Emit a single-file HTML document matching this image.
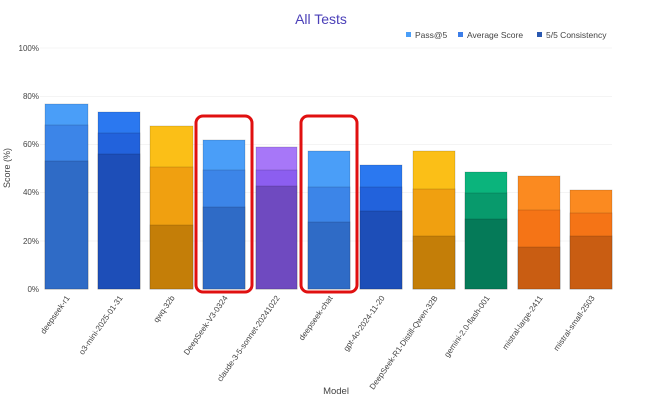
<!DOCTYPE html>
<html><head><meta charset="utf-8"><style>
html,body{margin:0;padding:0;background:#fff;}
svg{display:block;font-family:"Liberation Sans",sans-serif;}
</style></head><body>
<svg width="671" height="406" viewBox="0 0 671 406">
<text x="321" y="24" font-size="14" fill="#4a3fb8" text-anchor="middle">All Tests</text>
<g font-size="8.5" fill="#444">
<rect x="406" y="32" width="5" height="5" fill="#4a9ef8"/><text x="415" y="38">Pass@5</text>
<rect x="458" y="32" width="5" height="5" fill="#3c7de8"/><text x="467" y="38">Average Score</text>
<rect x="537" y="32" width="5" height="5" fill="#2a58b0"/><text x="546" y="38">5/5 Consistency</text>
</g>
<g stroke="#f4f4f4" stroke-width="1">
<line x1="40" y1="48" x2="612" y2="48"/><line x1="40" y1="96.5" x2="612" y2="96.5"/>
<line x1="40" y1="144.5" x2="612" y2="144.5"/><line x1="40" y1="192.5" x2="612" y2="192.5"/><line x1="40" y1="241" x2="612" y2="241"/>
</g>
<g font-size="8" fill="#444" text-anchor="end">
<text x="39" y="51">100%</text><text x="39" y="99">80%</text><text x="39" y="147">60%</text>
<text x="39" y="195">40%</text><text x="39" y="244">20%</text><text x="39" y="292">0%</text>
</g>
<text transform="translate(10,168) rotate(-90)" font-size="9" fill="#444" text-anchor="middle">Score (%)</text>
<text x="336" y="394" font-size="9.5" fill="#444" text-anchor="middle">Model</text>
<g stroke="rgba(0,0,0,0.18)" stroke-width="0.8">
<rect x="45" y="104" width="43" height="185" fill="#4a9ef8"/><rect x="45" y="125" width="43" height="164" fill="#3c85e8"/><rect x="45" y="161" width="43" height="128" fill="#2f6bc6"/>
<rect x="98" y="112" width="42" height="177" fill="#2b78f0"/><rect x="98" y="133" width="42" height="156" fill="#2262dc"/><rect x="98" y="154" width="42" height="135" fill="#1d4eb8"/>
<rect x="150" y="126" width="43" height="163" fill="#fbbf17"/><rect x="150" y="167" width="43" height="122" fill="#f0a010"/><rect x="150" y="225" width="43" height="64" fill="#c47e08"/>
<rect x="203" y="140" width="42" height="149" fill="#4a9ef8"/><rect x="203" y="170" width="42" height="119" fill="#3c85e8"/><rect x="203" y="207" width="42" height="82" fill="#2f6bc6"/>
<rect x="256" y="147" width="41" height="142" fill="#a777f8"/><rect x="256" y="170" width="41" height="119" fill="#8c5ef0"/><rect x="256" y="186" width="41" height="103" fill="#6f4ac0"/>
<rect x="308" y="151" width="42" height="138" fill="#4a9ef8"/><rect x="308" y="187" width="42" height="102" fill="#3c85e8"/><rect x="308" y="222" width="42" height="67" fill="#2f6bc6"/>
<rect x="360" y="165" width="42" height="124" fill="#2b78f0"/><rect x="360" y="187" width="42" height="102" fill="#2262dc"/><rect x="360" y="211" width="42" height="78" fill="#1d4eb8"/>
<rect x="413" y="151" width="42" height="138" fill="#fbbf17"/><rect x="413" y="189" width="42" height="100" fill="#f0a010"/><rect x="413" y="236" width="42" height="53" fill="#c47e08"/>
<rect x="465" y="172" width="42" height="117" fill="#0bb47c"/><rect x="465" y="193" width="42" height="96" fill="#089a6c"/><rect x="465" y="219" width="42" height="70" fill="#057a58"/>
<rect x="518" y="176" width="42" height="113" fill="#fb8a20"/><rect x="518" y="210" width="42" height="79" fill="#f57416"/><rect x="518" y="247" width="42" height="42" fill="#c95d12"/>
<rect x="570" y="190" width="42" height="99" fill="#fb8a20"/><rect x="570" y="213" width="42" height="76" fill="#f57416"/><rect x="570" y="236" width="42" height="53" fill="#c95d12"/>
</g>
<rect x="196" y="116" width="56" height="176" rx="7" fill="none" stroke="#e01010" stroke-width="3"/>
<rect x="301" y="116" width="56" height="176" rx="7" fill="none" stroke="#e01010" stroke-width="3"/>
<g font-size="8" fill="#444" text-anchor="end">
<text transform="translate(70,298) rotate(-55)">deepseek-r1</text>
<text transform="translate(123,298) rotate(-55)">o3-mini-2025-01-31</text>
<text transform="translate(175,298) rotate(-55)">qwq-32b</text>
<text transform="translate(228,298) rotate(-55)">DeepSeek-V3-0324</text>
<text transform="translate(280,298) rotate(-55)">claude-3-5-sonnet-20241022</text>
<text transform="translate(333,298) rotate(-55)">deepseek-chat</text>
<text transform="translate(385,298) rotate(-55)">gpt-4o-2024-11-20</text>
<text transform="translate(438,298) rotate(-55)">DeepSeek-R1-Distill-Qwen-32B</text>
<text transform="translate(490,298) rotate(-55)">gemini-2.0-flash-001</text>
<text transform="translate(543,298) rotate(-55)">mistral-large-2411</text>
<text transform="translate(595,298) rotate(-55)">mistral-small-2503</text>
</g>
</svg>
</body></html>
